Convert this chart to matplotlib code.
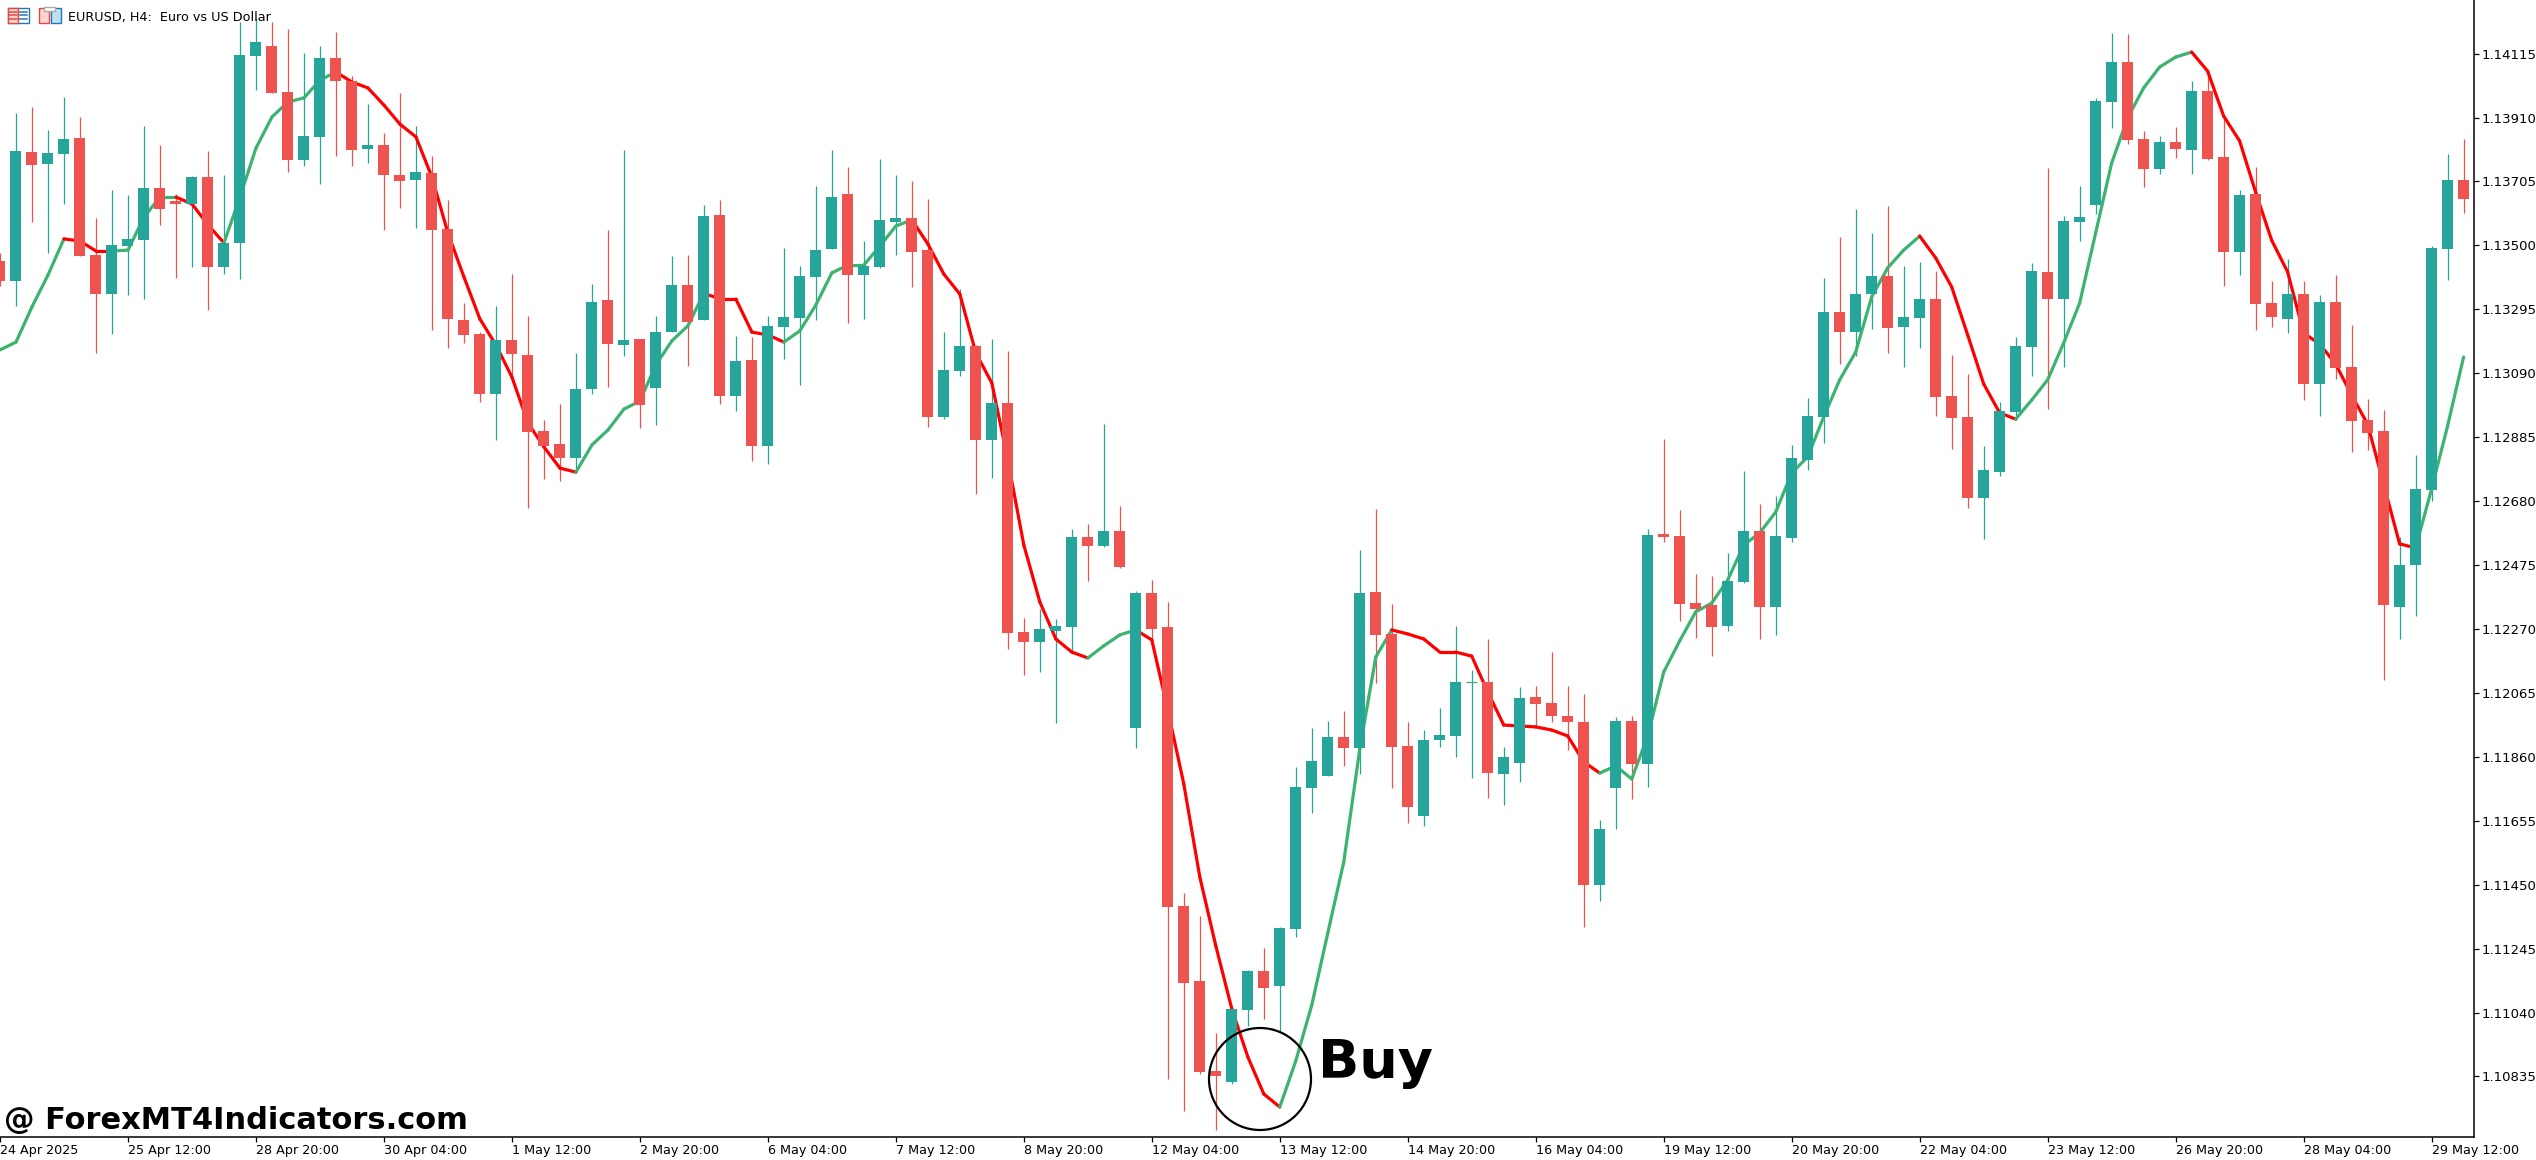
import numpy as np
import matplotlib
matplotlib.use('Agg')
import matplotlib.pyplot as plt
from matplotlib.patches import Ellipse, Rectangle

plt.rcParams['font.family'] = ['DejaVu Sans']

opens = [1.13451, 1.13386, 1.13799, 1.13761, 1.13793, 1.13844, 1.13470, 1.13344, 1.13498, 1.13517,
         1.13684, 1.13642, 1.13633, 1.13719, 1.13431, 1.13508, 1.14107, 1.14139, 1.13992, 1.13774,
         1.13848, 1.14101, 1.14027, 1.13809, 1.13822, 1.13726, 1.13710, 1.13732, 1.13553, 1.13261,
         1.13216, 1.13024, 1.13197, 1.13149, 1.12905, 1.12863, 1.12818, 1.13040, 1.13325, 1.13181,
         1.13200, 1.13043, 1.13222, 1.13373, 1.13261, 1.13598, 1.13017, 1.13133, 1.12857, 1.13238,
         1.13267, 1.13399, 1.13489, 1.13665, 1.13405, 1.13431, 1.13575, 1.13588, 1.13485, 1.12950,
         1.13097, 1.13177, 1.12876, 1.12995, 1.12260, 1.12228, 1.12264, 1.12276, 1.12565, 1.12536,
         1.12584, 1.11952, 1.12385, 1.12276, 1.11382, 1.11141, 1.10853, 1.10817, 1.11048, 1.11173,
         1.11125, 1.11308, 1.11760, 1.11799, 1.11924, 1.11888, 1.12389, 1.12254, 1.11895, 1.11670,
         1.11914, 1.11927, 1.12100, 1.12100, 1.11805, 1.11840, 1.12052, 1.12033, 1.11991, 1.11972,
         1.11449, 1.11760, 1.11975, 1.11837, 1.12575, 1.12568, 1.12353, 1.12347, 1.12280, 1.12421,
         1.12584, 1.12341, 1.12562, 1.12812, 1.12950, 1.13287, 1.13222, 1.13344, 1.13402, 1.13238,
         1.13267, 1.13328, 1.13017, 1.12950, 1.12690, 1.12773, 1.12966, 1.13174, 1.13415, 1.13328,
         1.13575, 1.13630, 1.13960, 1.14088, 1.13841, 1.13745, 1.13832, 1.13806, 1.13995, 1.13784,
         1.13479, 1.13665, 1.13315, 1.13264, 1.13344, 1.13056, 1.13319, 1.13110, 1.12940, 1.12905,
         1.12341, 1.12475, 1.12716, 1.13489, 1.13710]
highs = [1.13476, 1.13924, 1.13944, 1.13871, 1.13976, 1.13912, 1.13588, 1.13678, 1.13662, 1.13883,
         1.13822, 1.13665, 1.13723, 1.13803, 1.13726, 1.14216, 1.14229, 1.14216, 1.14194, 1.14117,
         1.14139, 1.14184, 1.14043, 1.13954, 1.13861, 1.13989, 1.13883, 1.13787, 1.13646, 1.13315,
         1.13222, 1.13306, 1.13408, 1.13274, 1.12940, 1.12992, 1.13155, 1.13376, 1.13549, 1.13806,
         1.13200, 1.13274, 1.13466, 1.13470, 1.13630, 1.13646, 1.13210, 1.13206, 1.13274, 1.13492,
         1.13434, 1.13691, 1.13806, 1.13752, 1.13514, 1.13777, 1.13726, 1.13707, 1.13649, 1.13222,
         1.13360, 1.13181, 1.13200, 1.13161, 1.12305, 1.12334, 1.12302, 1.12591, 1.12607, 1.12927,
         1.12664, 1.12392, 1.12427, 1.12357, 1.11423, 1.11350, 1.10975, 1.11052, 1.11177, 1.11247,
         1.11314, 1.11828, 1.11952, 1.11975, 1.12007, 1.12523, 1.12655, 1.12350, 1.11972, 1.11946,
         1.12017, 1.12280, 1.12139, 1.12238, 1.11892, 1.12084, 1.12087, 1.12196, 1.12087, 1.12062,
         1.11658, 1.11988, 1.11991, 1.12591, 1.12879, 1.12652, 1.12446, 1.12440, 1.12514, 1.12777,
         1.12671, 1.12697, 1.12860, 1.13011, 1.13396, 1.13527, 1.13617, 1.13540, 1.13626, 1.13434,
         1.13447, 1.13418, 1.13149, 1.13088, 1.12857, 1.12998, 1.13206, 1.13444, 1.13748, 1.13594,
         1.13691, 1.13973, 1.14181, 1.14178, 1.13867, 1.13851, 1.13880, 1.14027, 1.14059, 1.13915,
         1.13678, 1.13752, 1.13386, 1.13457, 1.13386, 1.13341, 1.13405, 1.13245, 1.13008, 1.12972,
         1.12565, 1.12828, 1.13498, 1.13793, 1.13841]
lows = [1.13370, 1.13306, 1.13575, 1.13476, 1.13633, 1.13466, 1.13155, 1.13216, 1.13341, 1.13328,
        1.13566, 1.13396, 1.13431, 1.13293, 1.13408, 1.13392, 1.13998, 1.13989, 1.13735, 1.13755,
        1.13697, 1.13787, 1.13755, 1.13764, 1.13549, 1.13620, 1.13556, 1.13229, 1.13171, 1.13187,
        1.12998, 1.12876, 1.13085, 1.12658, 1.12751, 1.12745, 1.12773, 1.13024, 1.13046, 1.13145,
        1.12915, 1.12924, 1.13222, 1.13113, 1.13261, 1.12992, 1.12969, 1.12809, 1.12799, 1.13136,
        1.13052, 1.13261, 1.13489, 1.13251, 1.13264, 1.13428, 1.13470, 1.13367, 1.12918, 1.12943,
        1.13081, 1.12703, 1.12754, 1.12206, 1.12123, 1.12132, 1.11969, 1.12190, 1.12424, 1.12533,
        1.12466, 1.11888, 1.12235, 1.10827, 1.10724, 1.10843, 1.10664, 1.10811, 1.10997, 1.11019,
        1.10981, 1.11282, 1.11680, 1.11799, 1.11831, 1.11805, 1.12097, 1.11760, 1.11648, 1.11638,
        1.11892, 1.11860, 1.11792, 1.11728, 1.11706, 1.11779, 1.11962, 1.11972, 1.11882, 1.11314,
        1.11398, 1.11629, 1.11725, 1.11763, 1.12549, 1.12296, 1.12241, 1.12183, 1.12264, 1.12418,
        1.12238, 1.12251, 1.12549, 1.12780, 1.12866, 1.13120, 1.13145, 1.13232, 1.13155, 1.13110,
        1.13171, 1.12953, 1.12847, 1.12658, 1.12559, 1.12761, 1.12940, 1.13081, 1.12975, 1.13110,
        1.13514, 1.13601, 1.13877, 1.13825, 1.13687, 1.13729, 1.13780, 1.13729, 1.13774, 1.13370,
        1.13405, 1.13229, 1.13238, 1.13219, 1.13004, 1.12953, 1.13072, 1.12838, 1.12844, 1.12106,
        1.12238, 1.12312, 1.12680, 1.13389, 1.13604]
closes = [1.13386, 1.13802, 1.13758, 1.13796, 1.13841, 1.13466, 1.13344, 1.13502, 1.13521, 1.13684,
          1.13617, 1.13633, 1.13719, 1.13431, 1.13508, 1.14111, 1.14152, 1.13989, 1.13774, 1.13851,
          1.14101, 1.14027, 1.13806, 1.13822, 1.13726, 1.13707, 1.13735, 1.13549, 1.13264, 1.13213,
          1.13024, 1.13197, 1.13152, 1.12902, 1.12857, 1.12818, 1.13040, 1.13319, 1.13184, 1.13197,
          1.12988, 1.13222, 1.13373, 1.13254, 1.13594, 1.13017, 1.13129, 1.12857, 1.13242, 1.13271,
          1.13402, 1.13485, 1.13655, 1.13405, 1.13434, 1.13582, 1.13588, 1.13479, 1.12950, 1.13101,
          1.13177, 1.12876, 1.12995, 1.12257, 1.12228, 1.12270, 1.12280, 1.12565, 1.12536, 1.12584,
          1.12469, 1.12385, 1.12270, 1.11379, 1.11135, 1.10850, 1.10837, 1.11052, 1.11173, 1.11119,
          1.11311, 1.11763, 1.11847, 1.11924, 1.11888, 1.12385, 1.12251, 1.11892, 1.11699, 1.11914,
          1.11930, 1.12100, 1.12100, 1.11808, 1.11860, 1.12049, 1.12030, 1.11991, 1.11972, 1.11449,
          1.11629, 1.11975, 1.11837, 1.12571, 1.12565, 1.12350, 1.12334, 1.12276, 1.12424, 1.12584,
          1.12341, 1.12568, 1.12818, 1.12953, 1.13287, 1.13222, 1.13344, 1.13402, 1.13235, 1.13271,
          1.13328, 1.13014, 1.12947, 1.12690, 1.12780, 1.12969, 1.13177, 1.13418, 1.13328, 1.13578,
          1.13591, 1.13963, 1.14088, 1.13838, 1.13745, 1.13832, 1.13809, 1.13995, 1.13777, 1.13479,
          1.13662, 1.13312, 1.13271, 1.13344, 1.13056, 1.13319, 1.13107, 1.12937, 1.12899, 1.12347,
          1.12475, 1.12719, 1.13492, 1.13710, 1.13649]
ma = [1.13165, 1.13190, 1.13303, 1.13405, 1.13521, 1.13514, 1.13482, 1.13482, 1.13485, 1.13591,
      1.13655, 1.13655, 1.13633, 1.13566, 1.13508, 1.13655, 1.13812, 1.13912, 1.13960, 1.13973,
      1.14030, 1.14056, 1.14024, 1.14005, 1.13950, 1.13889, 1.13848, 1.13719, 1.13540, 1.13399,
      1.13264, 1.13181, 1.13078, 1.12931, 1.12854, 1.12786, 1.12773, 1.12860, 1.12908, 1.12975,
      1.13001, 1.13117, 1.13194, 1.13242, 1.13347, 1.13328, 1.13328, 1.13222, 1.13213, 1.13190,
      1.13226, 1.13309, 1.13412, 1.13437, 1.13437, 1.13498, 1.13562, 1.13582, 1.13505, 1.13408,
      1.13344, 1.13155, 1.13059, 1.12812, 1.12539, 1.12357, 1.12238, 1.12196, 1.12177, 1.12216,
      1.12251, 1.12267, 1.12235, 1.12010, 1.11773, 1.11475, 1.11254, 1.11052, 1.10898, 1.10779,
      1.10737, 1.10885, 1.11064, 1.11295, 1.11523, 1.11885, 1.12180, 1.12267, 1.12254, 1.12238,
      1.12196, 1.12196, 1.12183, 1.12068, 1.11962, 1.11959, 1.11956, 1.11946, 1.11927, 1.11844,
      1.11808, 1.11831, 1.11789, 1.11927, 1.12132, 1.12232, 1.12325, 1.12353, 1.12427, 1.12539,
      1.12578, 1.12645, 1.12770, 1.12822, 1.12950, 1.13069, 1.13158, 1.13335, 1.13428, 1.13485,
      1.13530, 1.13460, 1.13367, 1.13213, 1.13056, 1.12963, 1.12943, 1.13004, 1.13069, 1.13187,
      1.13315, 1.13540, 1.13764, 1.13909, 1.14005, 1.14072, 1.14104, 1.14120, 1.14059, 1.13915,
      1.13835, 1.13671, 1.13517, 1.13415, 1.13219, 1.13184, 1.13120, 1.13020, 1.12927, 1.12735,
      1.12543, 1.12530, 1.12719, 1.12921, 1.13142]

price_ticks = [1.14115, 1.13910, 1.13705, 1.13500, 1.13295, 1.13090, 1.12885, 1.12680, 1.12475,
               1.12270, 1.12065, 1.11860, 1.11655, 1.11450, 1.11245, 1.11040, 1.10835]
date_labels = ['24 Apr 2025', '25 Apr 12:00', '28 Apr 20:00', '30 Apr 04:00', '1 May 12:00',
               '2 May 20:00', '6 May 04:00', '7 May 12:00', '8 May 20:00', '12 May 04:00',
               '13 May 12:00', '14 May 20:00', '16 May 04:00', '19 May 12:00', '20 May 20:00',
               '22 May 04:00', '23 May 12:00', '26 May 20:00', '28 May 04:00', '29 May 12:00']
bars_per_label = 8
green_against_slope = [102]

TEAL = '#26A69A'
CANDLE_RED = '#EF5350'
LINE_GREEN = '#3CB371'
LINE_RED = '#FF0000'


def draw_candles(ax):
    x = np.arange(len(opens))
    o = np.array(opens)
    c = np.array(closes)
    colors = [TEAL if c[i] >= o[i] else CANDLE_RED for i in x]
    ax.vlines(x, lows, highs, colors=colors, linewidth=0.9, zorder=1)
    ax.bar(x, np.abs(c - o), bottom=np.minimum(o, c), width=11 / 16, color=colors, linewidth=0, zorder=3)
    doji = x[o == c]
    ax.hlines(c[doji], doji - 0.34, doji + 0.34, colors=LINE_GREEN, linewidth=0.9, zorder=3)


def draw_ma(ax):
    color = LINE_GREEN
    for i in range(1, len(ma)):
        if ma[i] > ma[i - 1] or i in green_against_slope:
            color = LINE_GREEN
        elif ma[i] < ma[i - 1]:
            color = LINE_RED
        ax.plot([i - 1, i], [ma[i - 1], ma[i]], color=color, linewidth=2.3, zorder=2,
                solid_capstyle='round', solid_joinstyle='round')


def draw_header_icons(over):
    # two little toolbar icons in front of the symbol title
    over.add_patch(Rectangle((7.5, 7.5), 21, 15, fc='white', ec='#2277BB', lw=1.0))
    over.add_patch(Rectangle((7.5, 7.5), 10.5, 15, fc='#FBD5D0', ec='#E04A40', lw=1.0))
    for y in [11.5, 15, 18.5]:
        over.plot([9, 17], [y, y], color='#E04A40', lw=1.1)
        over.plot([19.5, 27], [y, y], color='#2277BB', lw=1.1)
    over.add_patch(Rectangle((39, 7.5), 10, 15, fc='#FBD5D0', ec='#E04A40', lw=1.0))
    over.add_patch(Rectangle((50.5, 7.5), 10, 15, fc='#BFE0F5', ec='#2277BB', lw=1.0))
    over.add_patch(Rectangle((43.5, 6.5), 11, 4, fc='white', ec='#AAAAAA', lw=1.0))


def main():
    fig = plt.figure(figsize=(25.36, 11.6), dpi=100)
    ax = fig.add_axes([0, (1160 - 1137.3) / 1160, 2474.3 / 2536, 1137.3 / 1160])
    draw_ma(ax)
    draw_candles(ax)

    ax.set_xlim(0.03, 154.67)
    ax.set_ylim(1.10640, 1.14287)
    for side in ['top', 'left']:
        ax.spines[side].set_visible(False)
    for side in ['right', 'bottom']:
        ax.spines[side].set_linewidth(1.1)

    ax.yaxis.tick_right()
    ax.set_yticks(price_ticks)
    ax.set_yticklabels(['{:.5f}'.format(p) for p in price_ticks], fontsize=9.5)
    ax.tick_params(axis='y', length=3.5, width=0.9, pad=2)

    tick_bars = np.arange(len(date_labels)) * bars_per_label
    ax.set_xticks(tick_bars)
    ax.set_xticklabels(date_labels, fontsize=9.2, ha='left')
    ax.tick_params(axis='x', length=3.5, width=0.9, pad=1.5)

    # overlay in image pixels for the annotations
    over = fig.add_axes([0, 0, 1, 1], facecolor='none')
    over.set_xlim(0, 2536)
    over.set_ylim(1160, 0)
    over.axis('off')

    draw_header_icons(over)
    over.text(68, 17, 'EURUSD, H4:  Euro vs US Dollar', fontsize=9.2, va='center', ha='left')
    over.add_patch(Ellipse((1260, 1079), 102, 102, fc='none', ec='black', lw=1.6))
    over.text(1318, 1078, 'Buy', fontweight='bold', fontsize=39,
              va='baseline', ha='left', color='black')
    over.text(4, 1129, '@ ForexMT4Indicators.com', fontweight='bold', fontsize=22,
              va='baseline', ha='left', color='black')

    fig.savefig('out.png', dpi=100, facecolor='white')


if __name__ == "__main__":
    main()
